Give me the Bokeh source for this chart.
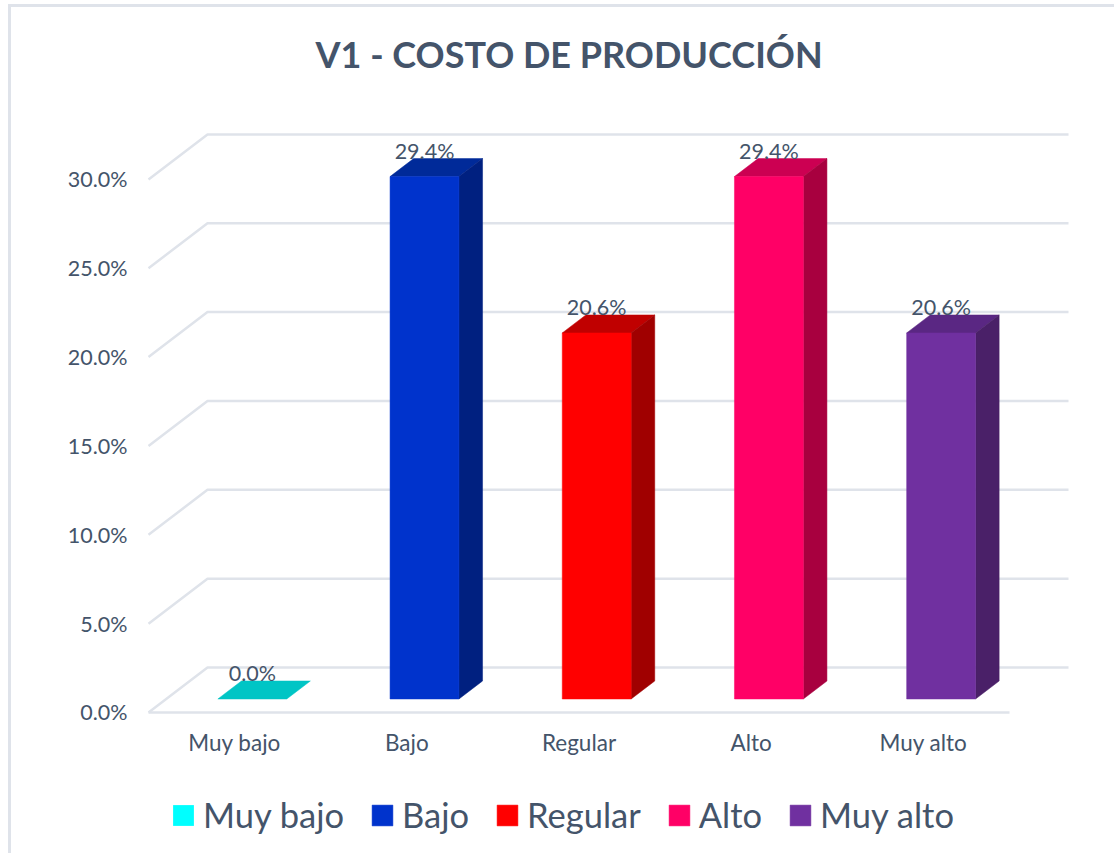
from bokeh.plotting import figure
from bokeh.embed import file_html
from bokeh.resources import INLINE
from bokeh.core.properties import value
from bokeh.models import Legend, LegendItem, FixedTicker, Range1d, Title

TITLE = "V1 - COSTO DE PRODUCCIÓN"
categories = ["Muy bajo", "Bajo", "Regular", "Alto", "Muy alto"]
percent = [0.0, 29.4, 20.6, 29.4, 20.6]
y_ticks = [0, 5, 10, 15, 20, 25, 30]
front_colors = ["#00FFFF", "#0033CC", "#FF0000", "#FF0066", "#7030A0"]
side_colors = ["#00A0A0", "#002080", "#A00000", "#A8003F", "#4A2068"]
top_colors = ["#00C5C5", "#002A99", "#C00000", "#CC0052", "#5A2783"]

GRID = "#DFE3EA"
TEXT = "#44546A"
FONT = "Lato"

# projection: depth (0 front .. 1 back) shifts a point right and up, in data units
DX = 59 / 172.2
DY = 45 / 17.77
BAR_W = 0.40
Z0, Z1 = 0.3, 0.7


def proj(x, y, z):
    return x + z * DX, y + z * DY


p = figure(width=1106, height=849, output_backend="svg", toolbar_location=None,
           x_range=Range1d(-0.0058, 5.3658), y_range=Range1d(-8.104, 33.315),
           min_border_left=136, min_border_right=45, min_border_top=113, min_border_bottom=0,
           outline_line_color=None, background_fill_color="white", border_fill_color="white",
           margin=(4, 0, 0, 8),
           styles={"border-left": f"3px solid {GRID}", "border-top": f"3px solid {GRID}"})

p.title.text = TITLE
p.title.text_font = FONT
p.title.text_font_size = "36px"
p.title.text_font_style = "bold"
p.title.text_color = TEXT
p.title.align = "left"
p.title.offset = 168
p.title.standoff = 3

# blank band between the title and the plot area
p.add_layout(Title(text=" ", text_font_size="36px", standoff=0), "above")

p.grid.visible = False

# y axis
ya = p.yaxis[0]
ya.ticker = FixedTicker(ticks=y_ticks)
ya.major_label_overrides = {t: f"{t:.1f}%" for t in y_ticks}
ya.major_label_text_font = FONT
ya.major_label_text_font_size = "21.5px"
ya.major_label_text_color = TEXT
ya.major_label_standoff = 14
ya.axis_line_color = None
ya.major_tick_line_color = None
ya.minor_tick_line_color = None

# x axis, pinned at value 0 inside the frame
tick_x = [i + 0.5 for i in range(len(categories))]
xa = p.xaxis[0]
xa.fixed_location = 0
xa.ticker = FixedTicker(ticks=tick_x)
xa.major_label_overrides = dict(zip(tick_x, categories))
xa.major_label_text_font = FONT
xa.major_label_text_font_size = "22.5px"
xa.major_label_text_color = TEXT
xa.major_label_standoff = 11
xa.axis_line_color = None
xa.major_tick_line_color = None
xa.minor_tick_line_color = None

# walls: oblique then back gridline at every tick
n = len(categories)
gx, gy = [], []
for t in y_ticks:
    a = proj(0, t, 0)
    b = proj(0, t, 1)
    c = proj(n, t, 1)
    gx.append([a[0], b[0], c[0]])
    gy.append([a[1], b[1], c[1]])
gx.append([0, n])
gy.append([0, 0])
p.multi_line(gx, gy, line_color=GRID, line_width=2.5)

items = []
for i, (cat, v) in enumerate(zip(categories, percent)):
    l = i + 0.5 - BAR_W / 2
    r = i + 0.5 + BAR_W / 2
    fl = proj(l, 0, Z0)
    fr = proj(r, 0, Z0)
    ftop = proj(l, v, Z0)[1]
    bl = proj(l, v, Z1)
    br = proj(r, v, Z1)
    # top face
    p.patch([proj(l, v, Z0)[0], proj(r, v, Z0)[0], br[0], bl[0]],
            [ftop, ftop, br[1], bl[1]], fill_color=top_colors[i], line_color=top_colors[i], line_width=0.5)
    # side face
    if v > 0:
        p.patch([fr[0], br[0], br[0], fr[0]],
                [fr[1], proj(r, 0, Z1)[1], br[1], ftop],
                fill_color=side_colors[i], line_color=side_colors[i], line_width=0.5)
    # front face
    q = p.quad(left=fl[0], right=fr[0], bottom=fl[1], top=ftop,
               fill_color=front_colors[i], line_color=front_colors[i] if v > 0 else None, line_width=0.5)
    items.append(LegendItem(label=cat, renderers=[q]))

# data labels
lx = [proj(i + 0.5, 0, Z0)[0] for i in range(n)]
ly = [proj(0, v, Z1)[1] for v in percent]
p.text(lx, ly, text=[f"{v:.1f}%" for v in percent], text_font=value(FONT), text_font_size="21.5px",
       text_color=TEXT, text_align="center", text_baseline="middle", y_offset=-8)

legend = Legend(items=items, orientation="horizontal", location=(23, 21),
                label_text_font=FONT, label_text_font_size="34.5px", label_text_color=TEXT,
                glyph_width=26, glyph_height=26, label_standoff=7, spacing=25,
                padding=0, margin=0, border_line_color=None, background_fill_alpha=0)
p.add_layout(legend, "center")

open("out.html", "w").write(file_html(p, INLINE))
